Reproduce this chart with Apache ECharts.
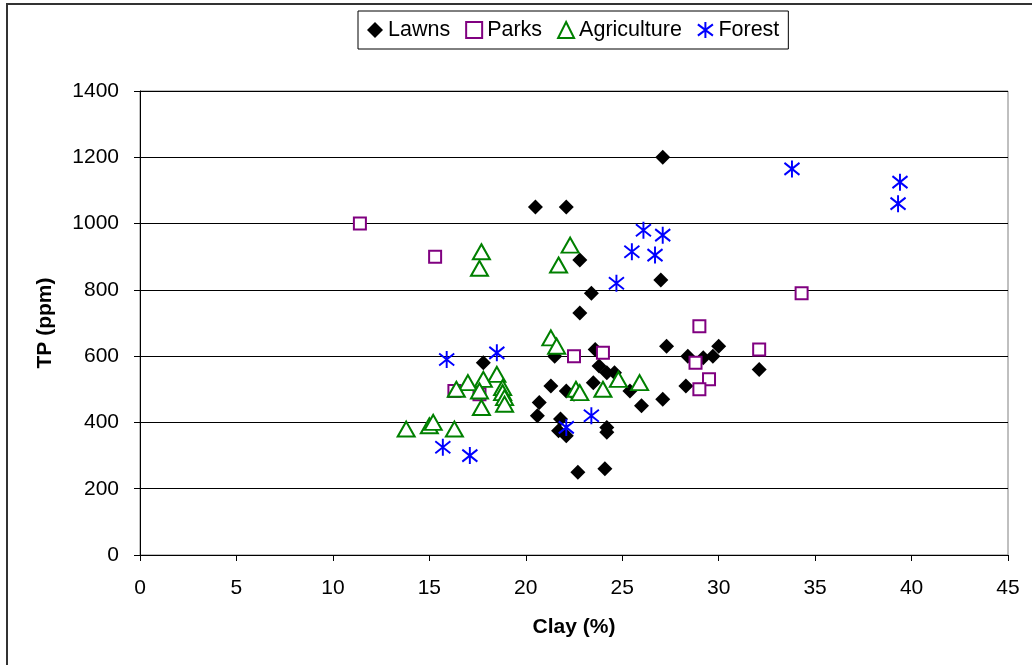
<!DOCTYPE html>
<html>
<head>
<meta charset="utf-8">
<script src="https://cdn.jsdelivr.net/npm/echarts@6/dist/echarts.min.js"></script>
<style>
html,body{margin:0;padding:0;background:#fff;}
#chart{width:1032px;height:665px;}
</style>
</head>
<body>
<div id="chart"></div>
<script>
const seriesNames = ['Lawns', 'Parks', 'Agriculture', 'Forest'];
const xTicks = [0, 5, 10, 15, 20, 25, 30, 35, 40, 45];
const yTicks = [0, 200, 400, 600, 800, 1000, 1200, 1400];

const lawnsX = [27.1,20.5,22.1,22.8,23.4,27.0,22.8,27.3,30.0,21.5,17.8,23.6,23.8,24.2,24.6,28.4,29.2,29.7,21.3,23.5,28.3,22.1,22.5,25.4,27.1,20.7,20.6,21.8,26.0,21.7,22.1,24.2,24.2,32.1,22.7,24.1];
const lawnsY = [1200,1050,1050,890,790,830,730,630,630,600,580,620,570,550,550,600,595,600,510,520,510,495,485,495,470,460,420,410,450,375,360,385,370,560,250,260];

const parksX = [11.4,15.3,34.3,29.0,32.1,22.5,24.0,28.8,29.5,29.0,16.3,17.6];
const parksY = [1000,900,790,690,620,600,610,580,530,500,495,485];

const agriX = [17.7,17.6,22.3,21.7,21.3,21.6,18.5,17.8,17.0,16.4,17.6,18.8,18.8,18.9,18.9,17.7,13.8,15.0,15.2,16.3,22.6,22.8,24.0,24.8,25.9];
const agriY = [915,865,935,875,655,630,545,530,520,500,495,505,490,475,455,445,380,390,400,380,500,490,500,530,520];

const forestX = [33.8,39.4,39.3,26.1,27.1,25.5,26.7,24.7,15.9,18.5,15.7,17.1,22.1,23.4];
const forestY = [1165,1125,1060,980,965,915,905,820,590,610,325,300,385,420];

function pairs(xs, ys) { return xs.map((x, i) => [x, ys[i]]); }

const FONT = 'Liberation Sans, Arial, sans-serif';
const asterisk = 'path://M8,0 L8,17 M0,2.5 L16,14.5 M0,14.5 L16,2.5';

const chart = echarts.init(document.getElementById('chart'), null, {renderer: 'canvas'});
chart.setOption({
  animation: false,
  backgroundColor: '#ffffff',
  textStyle: {fontFamily: FONT},
  graphic: [{
    type: 'rect',
    shape: {x: 7, y: 4, width: 1060, height: 700},
    style: {fill: 'none', stroke: '#333333', lineWidth: 2},
    silent: true, z: -10
  }],
  legend: {
    left: 358, top: 11,
    data: seriesNames,
    orient: 'horizontal',
    borderColor: '#000', borderWidth: 1,
    padding: [8, 9, 8, 9],
    itemGap: 15,
    itemWidth: 16, itemHeight: 16,
    textStyle: {fontSize: 21.5, color: '#000', fontFamily: FONT}
  },
  grid: {
    left: 140, right: 24, top: 91, bottom: 110,
    show: true, borderColor: '#808080', borderWidth: 1
  },
  xAxis: {
    type: 'value', min: xTicks[0], max: xTicks[xTicks.length - 1], interval: 5,
    name: 'Clay (%)', nameLocation: 'middle', nameGap: 62,
    nameTextStyle: {fontSize: 21, fontWeight: 'bold', color: '#000', fontFamily: FONT},
    axisLine: {show: true, lineStyle: {color: '#000', width: 1}},
    axisTick: {show: true, length: 6, lineStyle: {color: '#000'}},
    axisLabel: {fontSize: 21, color: '#000', margin: 23, fontFamily: FONT, formatter: v => String(v)},
    splitLine: {show: false}
  },
  yAxis: {
    type: 'value', min: yTicks[0], max: yTicks[yTicks.length - 1], interval: 200,
    name: 'TP (ppm)', nameLocation: 'middle', nameGap: 84,
    nameTextStyle: {fontSize: 21, fontWeight: 'bold', color: '#000', fontFamily: FONT},
    axisLine: {show: true, lineStyle: {color: '#000', width: 1}},
    axisTick: {show: true, length: 6, lineStyle: {color: '#000'}},
    axisLabel: {fontSize: 21, color: '#000', margin: 21, fontFamily: FONT, formatter: v => String(v)},
    splitLine: {show: true, lineStyle: {color: '#000', width: 1}}
  },
  series: [
    {
      name: 'Lawns', type: 'scatter', data: pairs(lawnsX, lawnsY),
      symbol: 'diamond', symbolSize: 15,
      itemStyle: {color: '#000000', opacity: 1}
    },
    {
      name: 'Parks', type: 'scatter', data: pairs(parksX, parksY),
      symbol: 'rect', symbolSize: 12,
      itemStyle: {color: '#ffffff', borderColor: '#800080', borderWidth: 2, opacity: 1}
    },
    {
      name: 'Agriculture', type: 'scatter', data: pairs(agriX, agriY),
      symbol: 'triangle', symbolSize: [17, 15],
      itemStyle: {color: '#ffffff', borderColor: '#008000', borderWidth: 2, opacity: 1}
    },
    {
      name: 'Forest', type: 'scatter', data: pairs(forestX, forestY),
      symbol: asterisk, symbolSize: [16, 17], symbolKeepAspect: true,
      itemStyle: {color: '#0000ff', borderColor: '#0000ff', borderWidth: 2, opacity: 1}
    }
  ]
});
</script>
</body>
</html>
